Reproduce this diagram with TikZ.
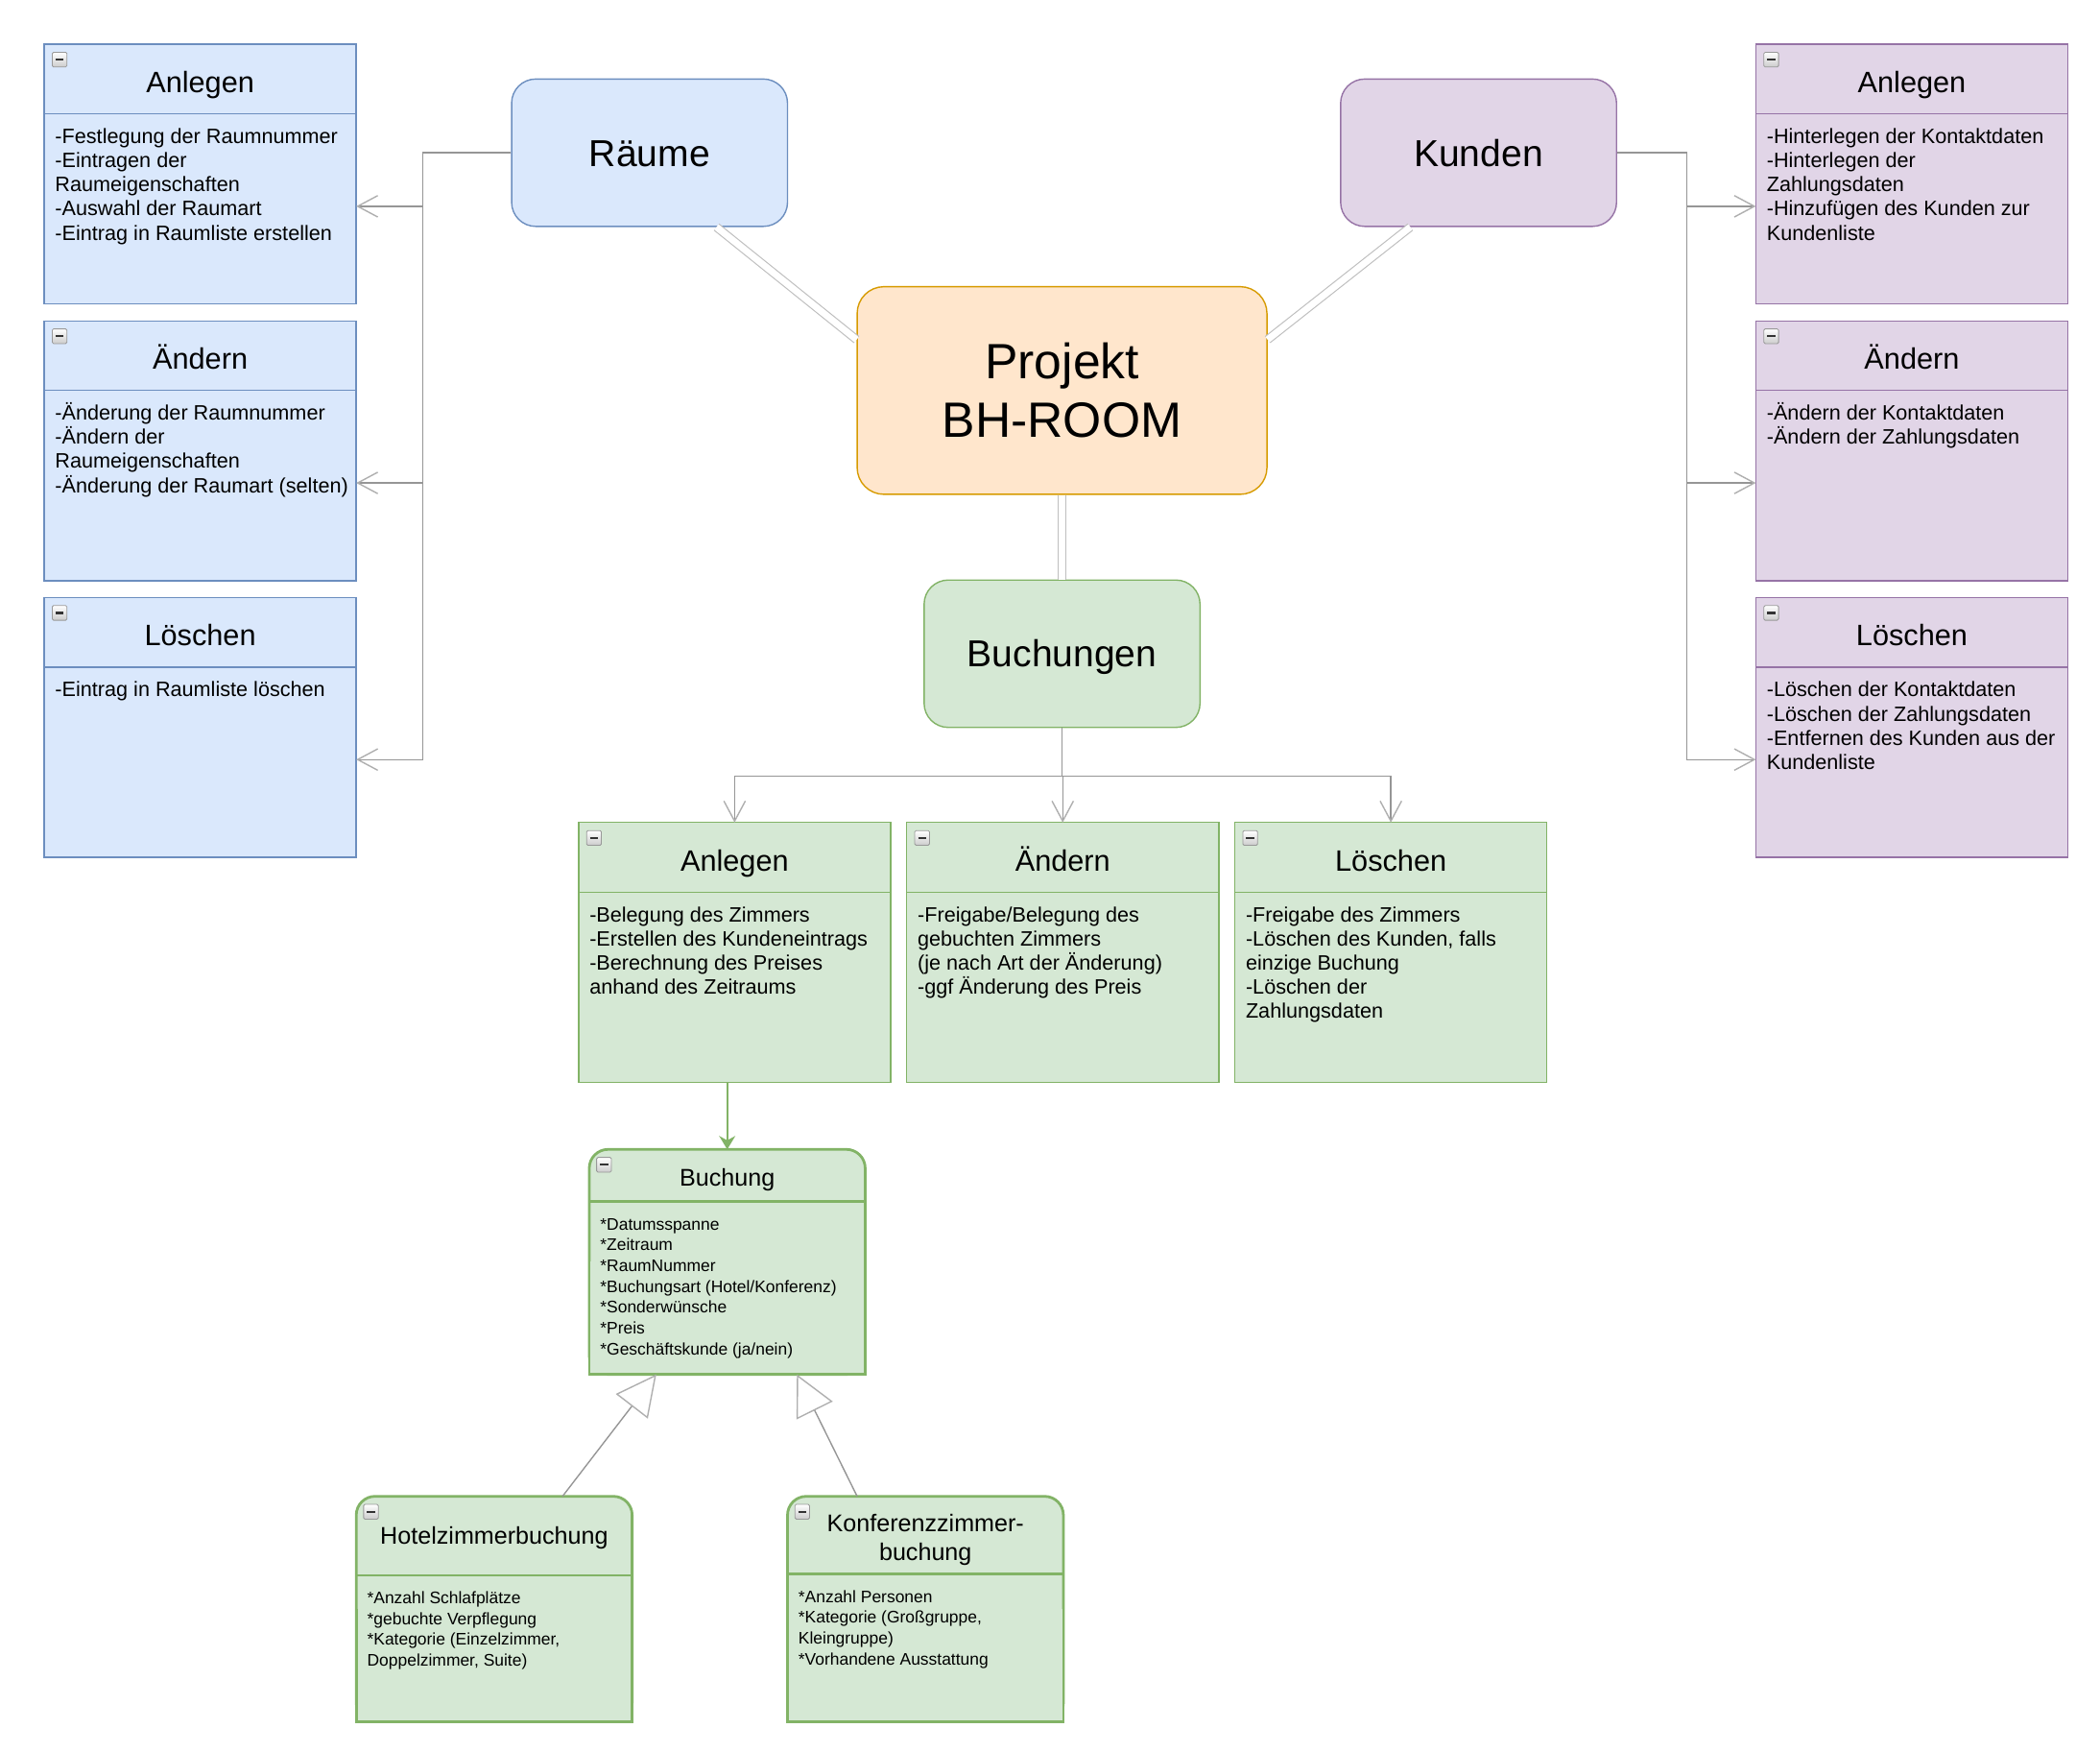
\documentclass[tikz,border=0pt]{standalone}
\usepackage{fontspec}
\setmainfont{Liberation Sans}
\usetikzlibrary{positioning, arrows.meta, calc, shadings}

\definecolor{RoomFill}{RGB}{218,232,252}
\definecolor{RoomLine}{RGB}{108,142,191}
\definecolor{CustomerFill}{RGB}{225,213,231}
\definecolor{CustomerLine}{RGB}{150,115,166}
\definecolor{ProjectFill}{RGB}{255,230,204}
\definecolor{ProjectLine}{RGB}{215,155,0}
\definecolor{BookingFill}{RGB}{213,232,212}
\definecolor{BookingLine}{RGB}{130,179,102}
\definecolor{EdgeColor}{RGB}{150,150,150}
\definecolor{TipColor}{RGB}{175,175,175}
\definecolor{LinkColor}{RGB}{190,190,190}

\tikzstyle{topic} = [rectangle, rounded corners=18pt, minimum width=206pt, minimum height=110pt, line width=1pt, font=\fontsize{28}{34}\selectfont, text height=20pt, text depth=0pt]
\tikzstyle{project} = [rectangle, rounded corners=20pt, minimum width=306pt, minimum height=155pt, line width=1pt, fill=ProjectFill, draw=ProjectLine, font=\fontsize{37}{44}\selectfont, align=center]
\tikzstyle{listframe} = [rectangle, minimum width=233pt, minimum height=194pt, line width=1pt, outer sep=0pt, anchor=north west]
\tikzstyle{listtitle} = [font=\fontsize{22}{26}\selectfont, anchor=base, inner sep=0pt]
\tikzstyle{listbody} = [font=\fontsize{15.5}{18}\selectfont, anchor=north west, align=left, inner sep=0pt]
\tikzstyle{classframe} = [rectangle, rounded corners=14pt, minimum width=206pt, minimum height=168pt, line width=2pt, outer sep=0pt, fill=BookingFill, draw=BookingLine, anchor=north west]
\tikzstyle{classline} = [BookingLine, line width=2pt]
\tikzstyle{classtitle} = [font=\fontsize{18}{21}\selectfont, anchor=north, align=center, inner sep=0pt]
\tikzstyle{classbody} = [font=\fontsize{12.5}{15.5}\selectfont, anchor=north west, align=left, inner sep=0pt]
\tikzstyle{minusicon} = [rectangle, rounded corners=1pt, minimum size=11pt, inner sep=0pt, draw=gray!80, line width=0.6pt, top color=white, bottom color=gray!40, path picture={\draw[black!80, line width=1.6pt] ([xshift=-3pt]path picture bounding box.center) -- ([xshift=3pt]path picture bounding box.center);}]
\tikzstyle{treeedge} = [EdgeColor, line width=1pt, -{Straight Barb[length=15pt, width=16pt, color=TipColor]}]
\tikzstyle{linkline} = [draw=LinkColor, line width=0.8pt, double=white, double distance=5pt]
\tikzstyle{inheritline} = [EdgeColor, line width=1pt, -{Triangle[open, length=30pt, width=30pt, color=TipColor]}]
\tikzstyle{assoc} = [BookingLine, line width=1.5pt, -{Stealth[length=10pt, width=12pt]}]

% list box: name, position, colour, title, lines
\newcommand{\listbox}[5]{%
  \node[listframe, fill=#3Fill, draw=#3Line] (#1) at (#2) {};
  \draw[#3Line, line width=1pt] ([yshift=-52pt]#1.north west) -- ([yshift=-52pt]#1.north east);
  \node[minusicon] (#1-icon) at ([xshift=11.5pt, yshift=-11.5pt]#1.north west) {};
  \node[listtitle] (#1-title) at ([yshift=-36pt]#1.north) {#4};
  \node[listbody] (#1-body) at ([xshift=8pt, yshift=-59pt]#1.north west) {\rule{0pt}{15pt}#5};
}

% class box: name, position, header height, title offset, title, attributes
\newcommand{\classbox}[6]{%
  \node[classframe] (#1) at (#2) {};
  \filldraw[classline, fill=BookingFill] (#1.west) -- (#1.south west) -- (#1.south east) -- (#1.east);
  \draw[classline] ([yshift=-#3pt]#1.north west) -- ([yshift=-#3pt]#1.north east);
  \node[minusicon] (#1-icon) at ([xshift=11pt, yshift=-11.5pt]#1.north west) {};
  \node[classtitle] (#1-title) at ([yshift=-#4pt]#1.north) {\rule{0pt}{14pt}#5};
  \node[classbody] (#1-body) at ([xshift=8pt, yshift=-#3pt-9pt]#1.north west) {\rule{0pt}{12pt}#6};
}

\begin{document}
\begin{tikzpicture}[x=1pt, y=-1pt]
    \path[use as bounding box, fill=white] (0,0) rectangle (1568,1307.2);

    % Main topics
    \node[topic, fill=RoomFill, draw=RoomLine] (raeume) at (485,114) {Räume};
    \node[topic, fill=CustomerFill, draw=CustomerLine] (kunden) at (1104,114) {Kunden};
    \node[project] (projekt) at (793,291.5) {Projekt\\BH-ROOM};
    \node[topic, fill=BookingFill, draw=BookingLine] (buchungen) at (793,488) {Buchungen};

    % Rooms
    \listbox{ranlegen}{33,33}{Room}{Anlegen}{-Festlegung der Raumnummer\\-Eintragen der\\Raumeigenschaften\\-Auswahl der Raumart\\-Eintrag in Raumliste erstellen}
    \listbox{raendern}{33,239.5}{Room}{Ändern}{-Änderung der Raumnummer\\-Ändern der\\Raumeigenschaften\\-Änderung der Raumart (selten)}
    \listbox{rloeschen}{33,446}{Room}{Löschen}{-Eintrag in Raumliste löschen}

    % Customers
    \listbox{kanlegen}{1311,33}{Customer}{Anlegen}{-Hinterlegen der Kontaktdaten\\-Hinterlegen der\\Zahlungsdaten\\-Hinzufügen des Kunden zur\\Kundenliste}
    \listbox{kaendern}{1311,239.5}{Customer}{Ändern}{-Ändern der Kontaktdaten\\-Ändern der Zahlungsdaten}
    \listbox{kloeschen}{1311,446}{Customer}{Löschen}{-Löschen der Kontaktdaten\\-Löschen der Zahlungsdaten\\-Entfernen des Kunden aus der\\Kundenliste}

    % Bookings
    \listbox{banlegen}{432,614}{Booking}{Anlegen}{-Belegung des Zimmers\\-Erstellen des Kundeneintrags\\-Berechnung des Preises\\anhand des Zeitraums}
    \listbox{baendern}{677,614}{Booking}{Ändern}{-Freigabe/Belegung des\\gebuchten Zimmers\\(je nach Art der Änderung)\\-ggf Änderung des Preis}
    \listbox{bloeschen}{922,614}{Booking}{Löschen}{-Freigabe des Zimmers\\-Löschen des Kunden, falls\\einzige Buchung\\-Löschen der\\Zahlungsdaten}

    % Classes
    \classbox{buchung}{440,858}{39}{13.5}{Buchung}{*Datumsspanne\\*Zeitraum\\*RaumNummer\\*Buchungsart (Hotel/Konferenz)\\*Sonderwünsche\\*Preis\\*Geschäftskunde (ja/nein)}
    \classbox{hotel}{266,1117}{59}{21.5}{Hotelzimmerbuchung}{*Anzahl Schlafplätze\\*gebuchte Verpflegung\\*Kategorie (Einzelzimmer,\\Doppelzimmer, Suite)}
    \classbox{konferenz}{588,1117}{58}{12.5}{Konferenzzimmer-\\buchung}{*Anzahl Personen\\*Kategorie (Großgruppe,\\Kleingruppe)\\*Vorhandene Ausstattung}

    % Links to the project
    \draw[linkline] ([xshift=50pt]raeume.south) -- ([yshift=38pt]projekt.west);
    \draw[linkline] ([xshift=-51pt]kunden.south) -- ([yshift=38pt]projekt.east);
    \draw[linkline] (projekt) -- (buchungen);

    % Tree edges
    \foreach \lst in {ranlegen, raendern, rloeschen}
        \draw[treeedge] (raeume.west) -- ++(-66,0) |- ([yshift=-121pt]\lst.north east);
    \foreach \lst in {kanlegen, kaendern, kloeschen}
        \draw[treeedge] (kunden.east) -- ++(52,0) |- ([yshift=-121pt]\lst.north west);
    \foreach \lst in {banlegen, baendern, bloeschen}
        \draw[treeedge] (buchungen.south) -- ++(0,36) -| (\lst.north);

    % Class relations
    \draw[assoc] (banlegen.south -| buchung.north) -- (buchung.north);
    \draw[inheritline] ([xshift=51pt]hotel.north) -- ([xshift=-53pt]buchung.south);
    \draw[inheritline] ([xshift=-51pt]konferenz.north) -- ([xshift=52pt]buchung.south);
\end{tikzpicture}
\end{document}
